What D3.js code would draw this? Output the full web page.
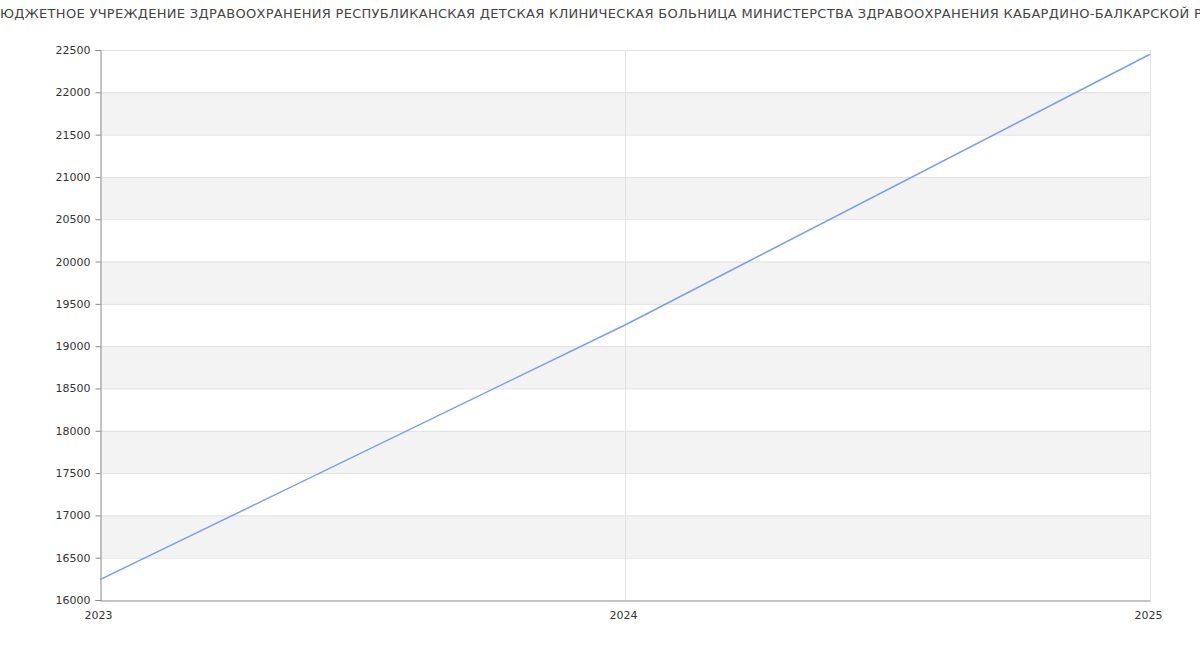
<!DOCTYPE html>
<html><head><meta charset="utf-8">
<script src="https://cdn.jsdelivr.net/npm/d3@7/dist/d3.min.js"></script>
<style>body{margin:0;background:#fff;}svg{display:block;font-family:"DejaVu Sans",sans-serif;}</style>
</head><body><svg id="c" width="1200" height="650"></svg>
<script>
const titleText = "ГОСУДАРСТВЕННОЕ БЮДЖЕТНОЕ УЧРЕЖДЕНИЕ ЗДРАВООХРАНЕНИЯ РЕСПУБЛИКАНСКАЯ ДЕТСКАЯ КЛИНИЧЕСКАЯ БОЛЬНИЦА МИНИСТЕРСТВА ЗДРАВООХРАНЕНИЯ КАБАРДИНО-БАЛКАРСКОЙ РЕСПУБЛИКИ";
const years = [2023, 2024, 2025];
const values = [16240, 19250, 22450];
const yTicks = [16000,16500,17000,17500,18000,18500,19000,19500,20000,20500,21000,21500,22000,22500];

const svg = d3.select("#c");
const m = {l:100, r:1150, t:50, b:600};
const x = d3.scaleLinear().domain([2023,2025]).range([m.l, m.r]);
const y = d3.scaleLinear().domain([16000,22500]).range([m.b, m.t]);

const bands = yTicks.filter((t,i)=> i%2===1 && i<yTicks.length-1);
svg.append("g").selectAll("rect").data(bands).join("rect")
  .attr("x", m.l).attr("width", m.r-m.l)
  .attr("y", d=>y(d+500)).attr("height", d=>y(d)-y(d+500))
  .attr("fill","#f3f3f3");
svg.append("g").selectAll("line").data(yTicks.slice(1)).join("line")
  .attr("x1", m.l).attr("x2", m.r).attr("y1", d=>y(d)+0.5).attr("y2", d=>y(d)+0.5)
  .attr("stroke","#e2e2e2");
svg.append("g").selectAll("line").data(years.slice(1)).join("line")
  .attr("x1", d=>x(d)+0.5).attr("x2", d=>x(d)+0.5).attr("y1", m.t).attr("y2", m.b)
  .attr("stroke","#e2e2e2");

const ya = svg.append("g").attr("transform",`translate(${m.l+0.5},0)`)
  .call(d3.axisLeft(y).tickValues(yTicks).tickFormat(d3.format("d")).tickSize(5).tickPadding(5));
const xa = svg.append("g").attr("transform",`translate(0,${m.b+0.5})`)
  .call(d3.axisBottom(x).tickValues(years).tickFormat(d3.format("d")).tickSize(0).tickPadding(11));
[ya,xa].forEach(a=>{
  a.select(".domain").attr("stroke","#888");
  a.selectAll(".tick line").attr("stroke","#888");
  a.selectAll("text").attr("fill","#333").style("font-size","11px").style("font-family","DejaVu Sans, sans-serif");
});
xa.selectAll(".tick text").attr("dx", -2);

svg.append("path").datum(years.map((d,i)=>[d, values[i]]))
  .attr("fill","none").attr("stroke","#769ef2").attr("stroke-width",1.5)
  .attr("d", d3.line().x(d=>x(d[0])).y(d=>y(d[1])));

const t = svg.append("text").attr("x",0).attr("y",18).attr("text-anchor","start")
  .attr("fill","#444").style("font-size","13px").style("letter-spacing","0.3px").text(titleText);
const startIdx = titleText.indexOf("ЮДЖЕТНОЕ");
const off = t.node().getStartPositionOfChar(startIdx).x;
t.attr("x", -off);
</script></body></html>
